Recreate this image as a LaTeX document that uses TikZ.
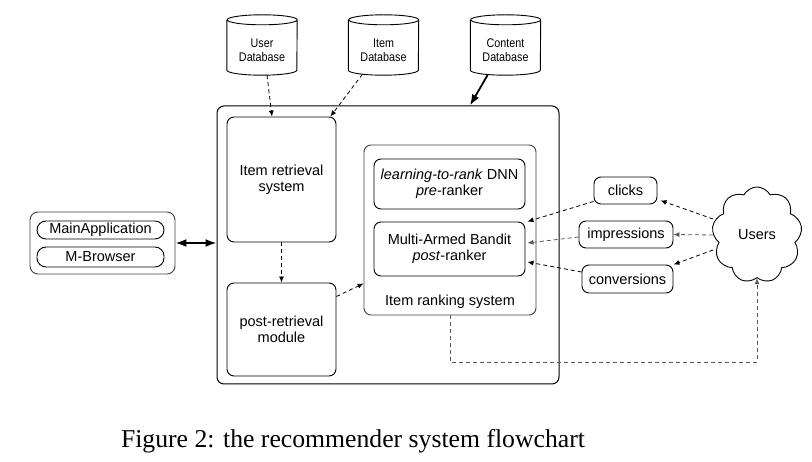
\documentclass[tikz,border=0pt]{standalone}
\usepackage{fontspec}
\setmainfont{Liberation Sans}
\newfontfamily\capfont{Liberation Serif}
\newfontfamily\dbfont[FakeStretch=0.86]{Liberation Sans}
\usetikzlibrary{shapes.symbols,arrows.meta,calc}
\newcommand\dbshape[1]{\draw[line width=0.9pt] ([yshift=5pt]#1.north west) -- ([yshift=5pt]#1.south west) arc[start angle=180,end angle=360,x radius=35pt,y radius=5pt] -- ([yshift=5pt]#1.north east) arc[start angle=0,end angle=360,x radius=35pt,y radius=5pt];}
\begin{document}
\begin{tikzpicture}[x=1pt,y=-1pt,
  mainfont/.style={font=\fontsize{14.5}{16}\selectfont},
  box/.style={draw, rounded corners=7pt, line width=0.9pt, align=center, inner sep=0pt, mainfont},
  pill/.style={draw, rounded corners=9pt, line width=0.9pt, inner sep=0pt, mainfont},
  db/.style={inner sep=0pt, align=center, minimum width=70pt, minimum height=50pt, font=\dbfont\fontsize{12.5}{14}\selectfont},
  dasharrow/.style={line width=0.8pt, dash pattern=on 4pt off 3pt, -{Latex[length=6pt,width=5pt]}},
  greyarrow/.style={dasharrow, draw=black!65},
  thickarrow/.style={line width=1.8pt, -{Latex[length=11pt,width=8pt]}},
]
\fill[white] (0,0) rectangle (812,462);
\useasboundingbox (0,0) rectangle (812,462);

% databases
\node[db] (udb) at (262,50) {User\\Database};
\node[db] (idb) at (383.5,50) {Item\\Database};
\node[db] (cdb) at (505.5,50) {Content\\Database};
\dbshape{udb}\dbshape{idb}\dbshape{cdb}

% outer box
\node[box, line width=1pt, minimum width=342pt, minimum height=278pt] (outer) at (388,245) {};
\node[box, minimum width=109pt, minimum height=125pt] (ret) at (281.5,179.5) {Item retrieval\\system};
\node[box, minimum width=109pt, minimum height=93pt] (post) at (281.5,329.5) {post-retrieval\\module};
\node[box, draw=black!75, minimum width=172pt, minimum height=170pt] (rank) at (450,230) {};
\node[mainfont, anchor=center] (ranklbl) at (450,302) {Item ranking system};
\node[box, minimum width=151pt, minimum height=50pt] (l2r) at (449.5,184) {\textit{learning-to-rank} DNN\\\textit{pre}-ranker};
\node[box, minimum width=151pt, minimum height=54pt] (mab) at (449.5,249) {Multi-Armed Bandit\\\textit{post}-ranker};

% feedback boxes
\node[box, minimum width=63pt, minimum height=27pt] (clicks) at (625.5,190.5) {clicks};
\node[box, minimum width=94pt, minimum height=27pt] (impr) at (626,234.5) {impressions};
\node[box, minimum width=91pt, minimum height=28pt] (conv) at (627.5,279) {conversions};

% users cloud
\node[cloud, draw, line width=0.9pt, cloud puffs=9, cloud puff arc=125, aspect=0.95, minimum width=90pt, minimum height=96pt, inner sep=0pt, mainfont] (users) at (757,235) {Users};

% main application
\node[box, draw=black!75, rounded corners=8pt, minimum width=145pt, minimum height=62pt] (mainapp) at (102.5,243) {};
\node[pill, minimum width=127pt, minimum height=18pt] (mapp) at (100.5,230) {MainApplication};
\node[pill, minimum width=127pt, minimum height=20pt] (mbr) at (100.5,257) {M-Browser};

% connectors
\draw[dasharrow] ([xshift=5pt]udb.south) -- ([xshift=-9.5pt]ret.north);
\draw[dasharrow] ([xshift=-21pt,yshift=1pt]idb.south) -- ([xshift=-6pt]ret.north east);
\draw[thickarrow] ([xshift=-18pt]cdb.south) -- ([xshift=82pt]outer.north);
\draw[dasharrow] (ret.south) -- (post.north);
\draw[dasharrow] ([yshift=-14pt]post.north east) -- ([yshift=32pt]rank.south west);
\draw[dasharrow] ([yshift=3pt]clicks.south west) -- ([xshift=2pt]mab.north east);
\draw[greyarrow] ([yshift=-2.5pt]impr.west) -- ([xshift=2pt,yshift=6pt]mab.east);
\draw[dasharrow] ([yshift=7pt]conv.west) -- ([xshift=2pt,yshift=-13pt]mab.east);
\draw[dasharrow] ([yshift=16pt]users.west) -- ([xshift=3pt,yshift=4pt]clicks.south east);
\draw[greyarrow] (users.west) -- (impr.east);
\draw[dasharrow] ([yshift=-15pt]users.west) -- (conv.north east);
\draw[greyarrow] (rank.south) -- ++(0,47) -| (users.south);
\draw[line width=1.8pt, {Latex[length=11pt,width=8pt]}-{Latex[length=11pt,width=8pt]}] (mainapp.east) -- (mainapp.east -| outer.west);

% caption
\node[anchor=base, inner sep=0pt, font=\capfont\fontsize{25.7}{30}\selectfont] (cap) at (353,448) {Figure 2: the recommender system flowchart};
\end{tikzpicture}
\end{document}
